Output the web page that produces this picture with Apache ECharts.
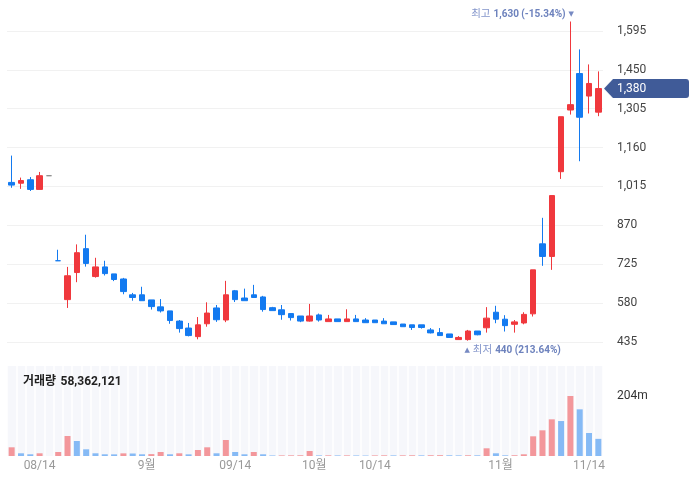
<!DOCTYPE html>
<html>
<head>
<meta charset="utf-8">
<style>
  html, body { margin: 0; padding: 0; background: #fff; }
  #chart { width: 689px; height: 484px; }
</style>
<script src="https://cdn.jsdelivr.net/npm/echarts@6/dist/echarts.min.js"></script>
</head>
<body>
<div id="chart"></div>
<script>
const dates = [
  '2024-08-09', '2024-08-12', '2024-08-13', '2024-08-14', '2024-08-16', '2024-08-19', '2024-08-20', '2024-08-21',
  '2024-08-22', '2024-08-23', '2024-08-26', '2024-08-27', '2024-08-28', '2024-08-29', '2024-08-30',
  '2024-09-02', '2024-09-03', '2024-09-04', '2024-09-05', '2024-09-06', '2024-09-09', '2024-09-10', '2024-09-11',
  '2024-09-12', '2024-09-13', '2024-09-19', '2024-09-20', '2024-09-23', '2024-09-24', '2024-09-25', '2024-09-26',
  '2024-09-27', '2024-09-30',
  '2024-10-02', '2024-10-04', '2024-10-07', '2024-10-08', '2024-10-10', '2024-10-11', '2024-10-14', '2024-10-15',
  '2024-10-16', '2024-10-17', '2024-10-18', '2024-10-21', '2024-10-22', '2024-10-23', '2024-10-24', '2024-10-25',
  '2024-10-28', '2024-10-29', '2024-10-30', '2024-10-31',
  '2024-11-01', '2024-11-04', '2024-11-05', '2024-11-06', '2024-11-07', '2024-11-08', '2024-11-11', '2024-11-12',
  '2024-11-13', '2024-11-14', '2024-11-15'
]

const openPrices = [
  1030, 1027, 1040, 1004, 1055, 738, 593, 694, 783, 679, 715, 689, 670, 611, 611, 592,
  566, 551, 513, 487, 455, 503, 562, 517, 626, 599, 611, 603, 563, 555, 541, 532,
  513, 536, 511, 521, 511, 521, 517, 517, 513, 510, 502, 499, 499, 480, 470, 465,
  444, 444, 476, 488, 546, 520, 501, 506, 540, 801, 754, 1070, 1300, 1436, 1352, 1292
]
const closePrices = [
  1020, 1037, 1004, 1055, 1055, 738, 682, 768, 728, 715, 690, 668, 623, 601, 589, 567,
  551, 515, 485, 459, 499, 543, 518, 611, 593, 589, 601, 556, 552, 537, 526, 513,
  532, 517, 521, 511, 521, 511, 507, 507, 503, 500, 492, 489, 489, 469, 459, 452,
  452, 476, 462, 524, 520, 496, 510, 538, 704, 754, 981, 1275, 1320, 1273, 1399, 1380
]
const lowPrices = [
  1010, 1006, 998, 1004, 1055, 738, 562, 658, 716, 675, 683, 662, 613, 589, 589, 556,
  545, 503, 470, 456, 445, 492, 510, 509, 584, 589, 601, 548, 552, 518, 515, 509,
  511, 511, 511, 511, 511, 510, 507, 507, 503, 500, 492, 480, 485, 467, 459, 452,
  443, 440, 460, 470, 505, 474, 470, 501, 530, 719, 704, 1043, 1283, 1109, 1287, 1277
]
const highPrices = [
  1130, 1048, 1050, 1069, 1055, 779, 715, 799, 835, 749, 738, 689, 674, 618, 641, 592,
  595, 551, 517, 506, 528, 583, 573, 663, 629, 634, 648, 607, 566, 573, 541, 532,
  577, 541, 536, 521, 557, 536, 524, 517, 524, 510, 502, 499, 499, 487, 487, 465,
  457, 480, 476, 565, 570, 535, 517, 546, 704, 898, 981, 1275, 1630, 1526, 1470, 1444
]
const volumes = [
  29600000, 9200000, 5800000, 9200000, 0, 13600000, 68000000, 51000000,
  22800000, 9200000, 5800000, 5600000, 9000000, 8500000, 5800000, 6400000,
  13600000, 5800000, 9200000, 5600000, 20400000, 29600000, 9200000, 54400000,
  13600000, 5800000, 13600000, 5800000, 1800000, 2000000, 2200000, 2400000,
  17000000, 2000000, 2200000, 1900000, 2100000, 1800000, 1500000, 2000000,
  2300000, 2000000, 2200000, 2400000, 2100000, 2500000, 2700000, 2300000,
  2000000, 2400000, 2200000, 26200000, 9200000, 2200000, 2500000, 5800000,
  67000000, 87400000, 124800000, 119000000, 204200000, 158800000, 78200000, 58362121
]

// x-axis labels (month names sit half a band before the first trading day)
const tickDates = ['2024-08-14', '2024-09-02', '2024-09-13', '2024-10-02', '2024-10-14', '2024-11-01', '2024-11-14']
const tickTexts = ['08/14', '9월', '09/14', '10월', '10/14', '11월', '11/14']
const monthTicks = ['9월', '10월', '11월']

const PRICE_MIN = 435
const PRICE_STEP = 145
const PRICE_MAX = 1740

const RED = '#f0383d'
const BLUE = '#137af0'
const GRAY = '#8e8e8e'
const RED_VOL = '#f3979b'
const BLUE_VOL = '#86baf5'
const TAG = '#405b98'
const FONT = 'Roboto, "Noto Sans CJK KR", sans-serif'

const fmt = v => v.toLocaleString('en-US')

const candleData = dates.map((d, i) => {
  const o = openPrices[i], c = closePrices[i], l = lowPrices[i], h = highPrices[i]
  const item = { value: [o, c, l, h] }
  if (o === c) {
    let col
    if (h === l) col = GRAY
    else col = i > 0 && closePrices[i - 1] > c ? BLUE : RED
    item.itemStyle = { color: col, color0: col, borderColor: col, borderColor0: col, borderColorDoji: col }
  }
  return item
})

const volumeData = volumes.map((v, i) => ({
  value: v,
  itemStyle: { color: i === 0 || v > volumes[i - 1] ? RED_VOL : BLUE_VOL }
}))

const volMax = Math.max(...volumes)
const lastClose = closePrices[closePrices.length - 1]
const lastVolume = volumes[volumes.length - 1]

const maxHigh = Math.max(...highPrices)
const maxIdx = highPrices.indexOf(maxHigh)
const minLow = Math.min(...lowPrices)
const minIdx = lowPrices.indexOf(minLow)
const pct = ref => ((lastClose - ref) / ref * 100).toFixed(2)

const labelMap = {}
tickDates.forEach((d, i) => {
  labelMap[d] = monthTicks.includes(tickTexts[i]) ? `{m|${tickTexts[i]}}` : tickTexts[i]
})

// left-pointing price tag behind the last close label
const tagImage = (w, h, color) => {
  const cv = document.createElement('canvas')
  cv.width = w
  cv.height = h
  const ctx = cv.getContext('2d')
  const a = 9, r = 3
  ctx.fillStyle = color
  ctx.beginPath()
  ctx.moveTo(0, h / 2)
  ctx.lineTo(a, 0)
  ctx.lineTo(w - r, 0)
  ctx.quadraticCurveTo(w, 0, w, r)
  ctx.lineTo(w, h - r)
  ctx.quadraticCurveTo(w, h, w - r, h)
  ctx.lineTo(a, h)
  ctx.closePath()
  ctx.fill()
  return cv
}

const chart = echarts.init(document.getElementById('chart'))

const markRich = {
  l: { color: '#8294ca', fontSize: 10.5, fontFamily: FONT },
  a: { color: '#7689c2', fontSize: 7, fontFamily: 'DejaVu Sans' },
  v: { color: '#6d82bd', fontSize: 10, fontWeight: 'bold', fontFamily: FONT }
}

const option = {
  animation: false,
  textStyle: { fontFamily: FONT },
  title: {
    text: `{a|거래량} {b|${fmt(lastVolume)}}`,
    left: 23,
    top: 373,
    padding: 0,
    textStyle: {
      rich: {
        a: { fontSize: 12, color: '#222', fontFamily: FONT },
        b: { fontSize: 12, color: '#222', fontWeight: 'bold', fontFamily: FONT }
      }
    }
  },
  grid: [
    { left: 7, right: 86, top: -8, bottom: 142, outerBoundsMode: 'none' },
    { left: 7, right: 86, top: 366, bottom: 28, outerBoundsMode: 'none' }
  ],
  xAxis: [
    {
      type: 'category',
      gridIndex: 0,
      data: dates,
      boundaryGap: true,
      axisLine: { show: false },
      axisTick: { show: false },
      axisLabel: { show: false },
      splitLine: { show: false }
    },
    {
      type: 'category',
      gridIndex: 1,
      data: dates,
      boundaryGap: true,
      axisLine: { show: false },
      axisTick: { show: false },
      axisLabel: {
        interval: 0,
        color: '#999',
        fontSize: 12,
        margin: 4,
        formatter: v => labelMap[v] || '',
        rich: { m: { padding: [0, 9.3, 0, 0], color: '#999', fontSize: 12 } }
      },
      splitArea: { show: true, interval: 0, areaStyle: { color: ['#f6f7fb'] } },
      splitLine: { show: true, interval: 0, lineStyle: { color: '#fff', width: 1.5 } }
    }
  ],
  yAxis: [
    {
      type: 'value',
      gridIndex: 0,
      position: 'right',
      min: PRICE_MIN,
      max: PRICE_MAX,
      interval: PRICE_STEP,
      axisLine: { show: false },
      axisTick: { show: false },
      axisLabel: { color: '#444', fontSize: 12, margin: 14, showMaxLabel: false, formatter: v => fmt(v) },
      splitLine: { lineStyle: { color: '#f1f1f1' } }
    },
    {
      type: 'value',
      gridIndex: 1,
      position: 'right',
      min: 0,
      max: volMax * 1.5,
      interval: volMax,
      axisLine: { show: false },
      axisTick: { show: false },
      splitLine: { show: false },
      axisLabel: {
        color: '#333',
        fontSize: 12,
        margin: 14,
        showMaxLabel: false,
        formatter: v => (v === volMax ? Math.round(v / 1e6) + 'm' : '')
      }
    }
  ],
  series: [
    {
      type: 'candlestick',
      xAxisIndex: 0,
      yAxisIndex: 0,
      data: candleData,
      barWidth: 6,
      itemStyle: {
        color: RED,
        color0: BLUE,
        borderColor: RED,
        borderColor0: BLUE,
        borderWidth: 1
      },
      markPoint: {
        silent: true,
        symbol: 'circle',
        symbolSize: 1,
        itemStyle: { color: 'rgba(0,0,0,0)' },
        data: [
          {
            coord: [maxIdx, maxHigh],
            label: {
              show: true,
              position: 'left',
              distance: -4,
              offset: [0, -7],
              formatter: `{l|최고} {v|${fmt(maxHigh)} (${pct(maxHigh)}%)} {a|▼}`,
              rich: markRich
            }
          },
          {
            coord: [minIdx, minLow],
            label: {
              show: true,
              position: 'right',
              distance: -4,
              offset: [0, 10],
              formatter: `{a|▲} {l|최저} {v|${fmt(minLow)} (${pct(minLow)}%)}`,
              rich: markRich
            }
          }
        ]
      },
      markLine: {
        silent: true,
        symbol: ['none', 'none'],
        lineStyle: { color: 'rgba(0,0,0,0)', width: 0 },
        data: [{ yAxis: lastClose }],
        label: {
          show: true,
          position: 'end',
          distance: 1,
          formatter: `{t|${fmt(lastClose)}}`,
          width: 72,
          height: 19,
          padding: [0, 0, 0, 13],
          backgroundColor: { image: tagImage(85, 19, TAG) },
          rich: {
            t: { color: '#fff', fontSize: 12, fontFamily: FONT, lineHeight: 19 }
          }
        }
      }
    },
    {
      type: 'bar',
      xAxisIndex: 1,
      yAxisIndex: 1,
      data: volumeData,
      barWidth: 6
    }
  ]
}

chart.setOption(option)
</script>
</body>
</html>
